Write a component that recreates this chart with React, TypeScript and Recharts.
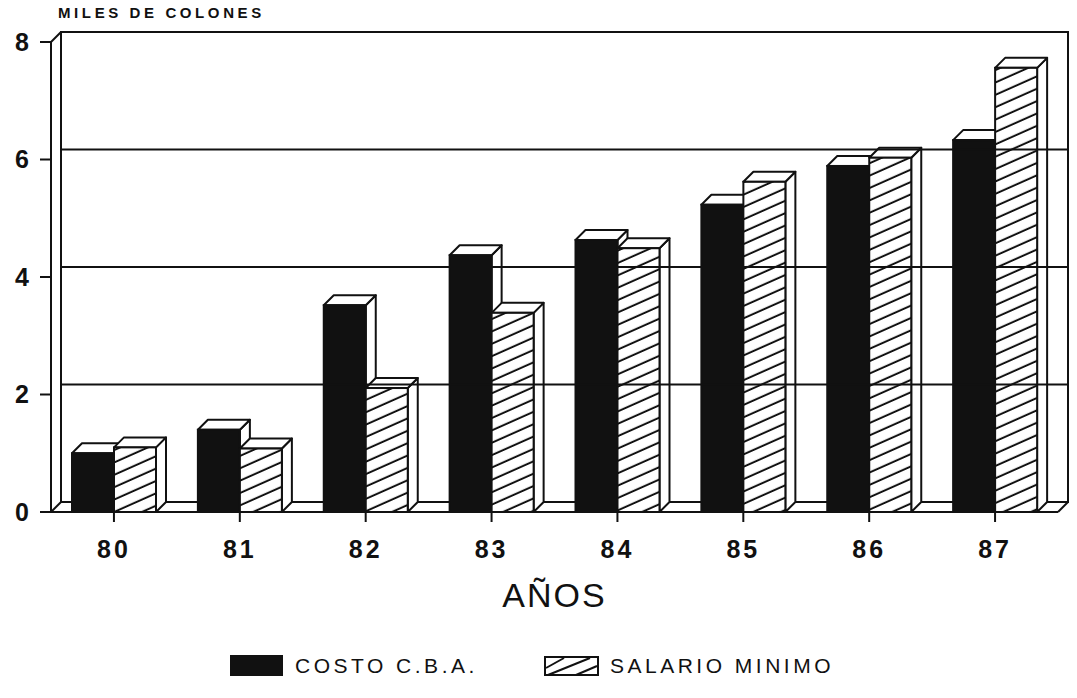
import React from 'react';
import { BarChart, Bar, XAxis, YAxis, ReferenceLine, ReferenceArea } from 'recharts';

const years = ['80', '81', '82', '83', '84', '85', '86', '87'];
const costoCBA = [1.0, 1.4, 3.52, 4.37, 4.63, 5.23, 5.89, 6.33];
const salarioMinimo = [1.1, 1.08, 2.11, 3.39, 4.49, 5.62, 6.03, 7.56];
const yTicks = [0, 2, 4, 6, 8];
const gridValues = [2, 4, 6];

const data = years.map((year, i) => ({
  year,
  costo: costoCBA[i],
  salario: salarioMinimo[i],
}));

const DEPTH = 10;
const INK = '#111';
const FONT = '"Liberation Sans", Arial, Helvetica, sans-serif';

// bar drawn as a box: front face, top and right side
function Box3D(props: any) {
  const { x, y, width, height, fill } = props;
  if (width == null || height == null || isNaN(y)) return null;
  const d = DEPTH;
  const top = `${x},${y} ${x + d},${y - d} ${x + width + d},${y - d} ${x + width},${y}`;
  const side = `${x + width},${y} ${x + width + d},${y - d} ${x + width + d},${y + height - d} ${x + width},${y + height}`;
  return (
    <g>
      <polygon points={side} fill="#fff" stroke={INK} strokeWidth={2} strokeLinejoin="round" />
      <polygon points={top} fill="#fff" stroke={INK} strokeWidth={2} strokeLinejoin="round" />
      <rect x={x} y={y} width={width} height={height} fill={fill} stroke={INK} strokeWidth={2} />
    </g>
  );
}

// back wall + floor of the 3d box
function BackWall(props: any) {
  const { x, y, width, height } = props;
  const d = DEPTH;
  const bx = x + d;
  const by = y - d;
  return (
    <g stroke={INK} strokeWidth={2} fill="none">
      <rect x={bx} y={by} width={width} height={height} fill="#fff" />
      <line x1={x} y1={y} x2={bx} y2={by} />
      <line x1={x} y1={y + height} x2={bx} y2={by + height} />
      <line x1={x + width} y1={y + height} x2={bx + width} y2={by + height} />
    </g>
  );
}

const GridLine = (p: any) => (
  <line
    x1={p.x1 + DEPTH}
    y1={p.y1 - DEPTH}
    x2={p.x2 + DEPTH}
    y2={p.y2 - DEPTH}
    stroke={INK}
    strokeWidth={2}
  />
);

export default function App() {
  return (
    <div style={{ position: 'absolute', left: 0, top: 0, width: 1077, height: 698, background: '#fff', fontFamily: FONT }}>
      <div
        style={{
          position: 'absolute', left: 58, top: 5, fontSize: 15, lineHeight: 1,
          fontWeight: 700, letterSpacing: 3.6, color: INK,
        }}
      >
        MILES DE COLONES
      </div>

      <BarChart
        width={1077}
        height={698}
        data={data}
        margin={{ top: 42, right: 19, left: 0, bottom: 126 }}
        barGap={0}
        barSize={42}
      >
        <defs>
          <pattern id="hatch" patternUnits="userSpaceOnUse" width="10" height="11.3" patternTransform="rotate(-24)">
            <rect width="10" height="11.3" fill="#fff" />
            <line x1="0" y1="5.6" x2="10" y2="5.6" stroke={INK} strokeWidth={2} />
          </pattern>
        </defs>
        <ReferenceArea y1={0} y2={8} shape={BackWall} ifOverflow="visible" />
        {gridValues.map((v) => (
          <ReferenceLine key={v} y={v} shape={GridLine} />
        ))}
        <XAxis
          dataKey="year"
          height={60}
          tickSize={10}
          tickMargin={18}
          axisLine={{ stroke: INK, strokeWidth: 2 }}
          tickLine={{ stroke: INK, strokeWidth: 2 }}
          tick={{ fill: INK, fontSize: 25, fontWeight: 700, fontFamily: FONT, letterSpacing: 3 }}
          label={{ value: 'AÑOS', position: 'bottom', offset: 11, fill: INK, fontSize: 34, fontFamily: FONT, letterSpacing: 2 }}
        />
        <YAxis
          domain={[0, 8]}
          ticks={yTicks}
          interval={0}
          width={51}
          tickSize={11}
          tickMargin={11}
          axisLine={{ stroke: INK, strokeWidth: 2 }}
          tickLine={{ stroke: INK, strokeWidth: 2 }}
          tick={{ fill: INK, fontSize: 25, fontWeight: 700, fontFamily: FONT }}
        />
        <Bar dataKey="costo" name="COSTO C.B.A." fill={INK} shape={<Box3D />} isAnimationActive={false} />
        <Bar dataKey="salario" name="SALARIO MINIMO" fill="url(#hatch)" shape={<Box3D />} isAnimationActive={false} />
      </BarChart>

      <div style={{ position: 'absolute', left: 230, top: 655, width: 53, height: 21, background: INK }} />
      <div style={{ position: 'absolute', left: 295, top: 655, fontSize: 21, lineHeight: 1, letterSpacing: 3.5, color: INK }}>
        COSTO C.B.A.
      </div>
      <svg style={{ position: 'absolute', left: 544, top: 656 }} width={56} height={21}>
        <rect x={1} y={1} width={53} height={18} fill="#fff" stroke={INK} strokeWidth={2} />
        <line x1={2} y1={12} x2={20} y2={2} stroke={INK} strokeWidth={2} />
        <line x1={4} y1={19} x2={46} y2={2} stroke={INK} strokeWidth={2} />
        <line x1={32} y1={19} x2={53} y2={10} stroke={INK} strokeWidth={2} />
      </svg>
      <div style={{ position: 'absolute', left: 610, top: 655, fontSize: 21, lineHeight: 1, letterSpacing: 3.5, color: INK }}>
        SALARIO MINIMO
      </div>
    </div>
  );
}
